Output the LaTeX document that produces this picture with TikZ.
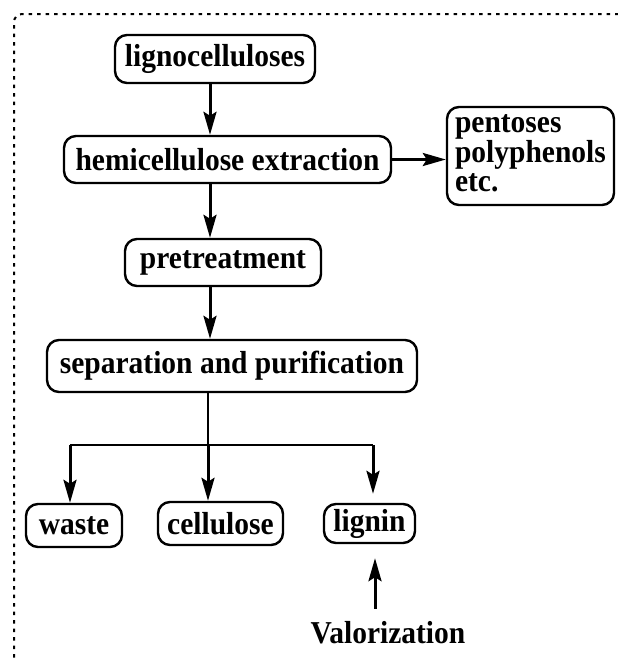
\documentclass[tikz,border=0pt]{standalone}
\usepackage{fontspec}
\usepackage{graphicx}
\setmainfont{Liberation Serif}
\usetikzlibrary{arrows.meta}
\newcommand\tallt[1]{\scalebox{1}[1.08]{#1}}
\begin{document}
\begin{tikzpicture}[x=1pt,y=-1pt,
  txt/.style={font=\bfseries\fontsize{29.5}{28}\selectfont},
  box/.style={txt,draw,line width=2.4pt,rounded corners=12pt,inner sep=0pt},
  arr/.style={line width=3pt,-{Stealth[length=23pt,width=13pt,inset=4pt]}},
  link/.style={line width=2.4pt},
  frame/.style={line width=2pt,dash pattern=on 3.5pt off 5pt}]
\useasboundingbox (0,0) rectangle (618,659);
\draw[frame,rounded corners=8pt] (14,700) |- (700,14);
\node[box,minimum width=200pt,minimum height=48pt] (ligno) at (215,59) {\tallt{lignocelluloses}};
\node[box,minimum width=327pt,minimum height=47pt] (hemi) at (227.5,159.5) {\tallt{hemicellulose extraction}};
\node[box,minimum width=167pt,minimum height=98pt,inner xsep=8pt,text width=151pt] (pent) at (530.5,156) {\tallt{\begin{tabular}{@{}l@{}}pentoses\\[-1pt]polyphenols\\[-1pt]etc.\end{tabular}}};
\node[box,minimum width=196pt,minimum height=47pt] (pret) at (223,262.5) {\tallt{pretreatment}};
\node[box,minimum width=370pt,minimum height=52pt] (sep) at (232,366) {\tallt{separation and purification}};
\node[box,minimum width=96pt,minimum height=43pt] (waste) at (74,525.5) {\tallt{waste}};
\node[box,minimum width=125pt,minimum height=43pt] (cell) at (220.5,523.5) {\tallt{cellulose}};
\node[box,minimum width=91pt,minimum height=39pt] (lig) at (369.5,523.5) {\tallt{lignin}};
\node[txt,anchor=base,inner sep=0pt] (valor) at (388,643) {\tallt{Valorization}};
\coordinate (spine) at (210,0);
\draw[arr] (spine |- ligno.south) -- (spine |- hemi.north);
\draw[arr] (spine |- hemi.south) -- (spine |- pret.north);
\draw[arr] (spine |- pret.south) -- (spine |- sep.north);
\draw[arr] (hemi.east) -- (hemi.east -| pent.west);
\coordinate (junc) at (208,445);
\coordinate (jw) at (70,445);
\coordinate (jl) at (373,445);
\draw[link] (junc |- sep.south) -- (junc);
\draw[link] (jw) -- (jl);
\draw[arr] (jw) -- (jw |- waste.north);
\draw[arr] (junc) -- (junc |- cell.north);
\draw[arr,shorten >=9pt] (jl) -- (jl |- lig.north);
\coordinate (va) at (375,0);
\draw[arr,shorten <=12pt,shorten >=14pt] (va |- valor.north) -- (va |- lig.south);
\end{tikzpicture}
\end{document}
